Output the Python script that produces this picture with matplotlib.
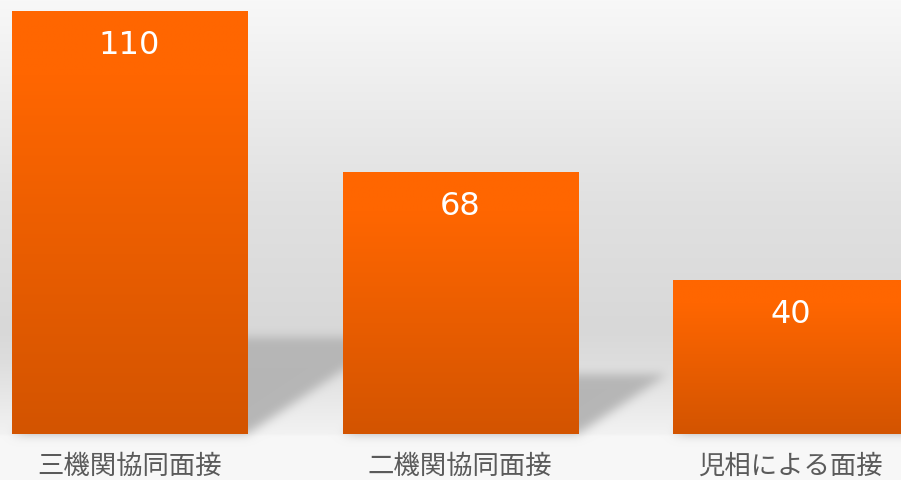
import numpy as np
import matplotlib
matplotlib.use('Agg')
import matplotlib.pyplot as plt
from matplotlib.path import Path
from matplotlib.colors import LinearSegmentedColormap
import matplotlib.transforms as mtransforms

categories = ['三機関協同面接', '二機関協同面接', '児相による面接']
values = [110, 68, 40]

W, H, DPI = 901, 480, 100
fig = plt.figure(figsize=(W / DPI, H / DPI), dpi=DPI)
ax = fig.add_axes([0, 0, 1, 1])
ax.set_xlim(-0.392, 2.334)
ax.set_ylim(-11.96, 112.87)
ax.axis('off')

x = np.arange(len(categories))
bar_w = 0.711

# ---- background (wall + floor) ----
stops_y = np.array([0, 100, 200, 330, 360, 433, 436, 480])
stops_v = np.array([248, 236, 225, 216, 221, 242, 247, 248]) / 255.0
rows = np.arange(H)
col = np.interp(rows, stops_y, stops_v)
bg = np.repeat(col[:, None], W, axis=1)

# ---- shadows behind bars (derived from bars) ----
fig.canvas.draw()
k_shadow = 0.23
yy, xx = np.mgrid[0:H, 0:W]
pts = np.column_stack([xx.ravel() + 0.5, (H - yy.ravel() - 0.5)])
mask = np.zeros(H * W)
for xi, v in zip(x, values):
    xl, xr = xi - bar_w / 2, xi + bar_w / 2
    p0 = ax.transData.transform((xl, 0))
    p1 = ax.transData.transform((xr, 0))
    ptop = ax.transData.transform((xr, k_shadow * v))
    hpx = ptop[1] - p1[1]
    s = 1.5 * hpx
    poly = Path([(p0[0], p0[1]), (p1[0], p1[1]), (p1[0] + s, ptop[1]),
                 (p0[0] + s, ptop[1]), (p0[0], p0[1])])
    mask = np.maximum(mask, poly.contains_points(pts).astype(float))
mask = mask.reshape(H, W)

sig = 5.0
kx = np.arange(-15, 16)
kern = np.exp(-kx ** 2 / (2 * sig ** 2))
kern /= kern.sum()
pad = np.pad(mask, 15, mode='edge')
blur = np.apply_along_axis(lambda r: np.convolve(r, kern, mode='same'), 1, pad)
blur = np.apply_along_axis(lambda c: np.convolve(c, kern, mode='same'), 0, blur)
blur = blur[15:-15, 15:-15]
shadow_col = 182 / 255.0
img = bg * (1 - blur) + shadow_col * blur
rgb = np.dstack([img, img, img])
ax.imshow(rgb, extent=[0, 1, 0, 1], transform=ax.transAxes, aspect='auto',
          origin='upper', zorder=0, interpolation='bilinear')

# ---- bars with vertical gradient ----
cmap = LinearSegmentedColormap.from_list(
    'bar', [(0.0, '#D35400'), (0.85, '#FF6600'), (1.0, '#FF6600')])
bars = ax.bar(x, values, width=bar_w, color='#E95D00', zorder=1, linewidth=0)
grad = np.linspace(0, 1, 256)[:, None]
for rect in bars:
    bx, by, bw, bh = rect.get_x(), rect.get_y(), rect.get_width(), rect.get_height()
    ax.imshow(grad, extent=[bx, bx + bw, by, by + bh], origin='lower', cmap=cmap,
              aspect='auto', zorder=2, interpolation='bilinear')

ax.set_xlim(-0.392, 2.334)
ax.set_ylim(-11.96, 112.87)

# ---- value labels ----
for xi, v in zip(x, values):
    ax.annotate(str(v), (xi, v), xytext=(0, -24.5), textcoords='offset points',
                ha='center', va='center', color='white', fontsize=23,
                family='DejaVu Sans', zorder=3)

# ---- category labels ----
trans = mtransforms.blended_transform_factory(ax.transData, ax.transAxes)
for xi, c in zip(x, categories):
    ax.text(xi, 0.029, c, transform=trans, ha='center', va='center',
            fontsize=19, color='#5a5a5a',
            family=['Noto Sans CJK JP', 'DejaVu Sans'], zorder=3)

fig.savefig('out.png', dpi=DPI)
